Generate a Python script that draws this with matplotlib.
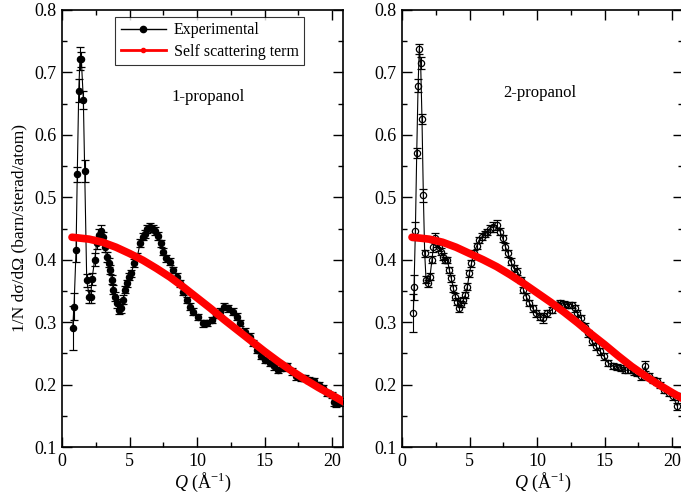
import matplotlib

matplotlib.use("Agg")
import matplotlib.pyplot as plt  # noqa: E402
from matplotlib.lines import Line2D  # noqa: E402

plt.rcParams["font.family"] = ["Liberation Serif", "DejaVu Serif"]
plt.rcParams["mathtext.fontset"] = "custom"
plt.rcParams["mathtext.rm"] = "Liberation Serif"
plt.rcParams["mathtext.it"] = "Liberation Serif:italic"

# 1-propanol, experimental
q1 = [0.79, 0.89, 1.04, 1.13, 1.24, 1.33, 1.43, 1.58, 1.68, 1.83, 2.02, 2.12, 2.22, 2.42,
      2.57, 2.77, 2.91, 3.06, 3.16, 3.31, 3.46, 3.56, 3.68, 3.80, 3.95, 4.10, 4.25, 4.40,
      4.54, 4.69, 4.84, 4.99, 5.14, 5.33, 5.58, 5.78, 5.98, 6.17, 6.32, 6.52, 6.72, 6.91,
      7.11, 7.31, 7.51, 7.70, 8.00, 8.25, 8.49, 8.74, 8.99, 9.24, 9.48, 9.73, 10.10, 10.42,
      10.72, 11.09, 11.40, 11.70, 12.00, 12.32, 12.64, 12.99, 13.19, 13.56, 13.88, 14.17,
      14.42, 14.72, 15.04, 15.36, 15.70, 16.02, 16.35, 16.69, 17.01, 17.33, 17.68, 18.00,
      18.32, 18.67, 18.99, 19.31, 19.61, 19.98, 20.10, 20.30, 20.60]
s1 = [0.291, 0.325, 0.415, 0.537, 0.671, 0.722, 0.721, 0.656, 0.542, 0.367, 0.341, 0.340,
      0.369, 0.400, 0.427, 0.440, 0.446, 0.437, 0.421, 0.405, 0.395, 0.384, 0.368, 0.352,
      0.341, 0.330, 0.320, 0.322, 0.336, 0.352, 0.362, 0.373, 0.378, 0.395, 0.405, 0.427,
      0.437, 0.441, 0.449, 0.453, 0.450, 0.446, 0.438, 0.426, 0.413, 0.402, 0.397, 0.384,
      0.373, 0.362, 0.349, 0.336, 0.325, 0.317, 0.308, 0.298, 0.299, 0.303, 0.312, 0.317,
      0.325, 0.322, 0.317, 0.309, 0.299, 0.285, 0.277, 0.266, 0.255, 0.246, 0.239, 0.234,
      0.229, 0.223, 0.226, 0.229, 0.221, 0.213, 0.210, 0.210, 0.207, 0.205, 0.199, 0.194,
      0.186, 0.183, 0.172, 0.170, 0.172]
e1 = [0.035, 0.022, 0.018, 0.012, 0.018, 0.018, 0.012, 0.015, 0.018, 0.010, 0.010, 0.010,
      0.010, 0.010, 0.010, 0.010, 0.010, 0.008, 0.008, 0.008, 0.007, 0.007, 0.007, 0.007,
      0.007, 0.007, 0.007, 0.007, 0.007, 0.006, 0.006, 0.006, 0.006, 0.006, 0.006, 0.006,
      0.006, 0.006, 0.006, 0.006, 0.006, 0.006, 0.006, 0.006, 0.005, 0.005, 0.005, 0.005,
      0.005, 0.005, 0.005, 0.005, 0.005, 0.005, 0.005, 0.005, 0.005, 0.005, 0.005, 0.005,
      0.005, 0.005, 0.005, 0.005, 0.005, 0.005, 0.005, 0.005, 0.005, 0.005, 0.005, 0.005,
      0.005, 0.005, 0.005, 0.005, 0.005, 0.005, 0.005, 0.005, 0.005, 0.005, 0.005, 0.005,
      0.005, 0.005, 0.006, 0.006, 0.006]

# 2-propanol, experimental
q2 = [0.84, 0.89, 0.99, 1.09, 1.19, 1.28, 1.38, 1.48, 1.58, 1.68, 1.78, 1.93, 2.07, 2.22,
      2.32, 2.47, 2.62, 2.77, 2.91, 3.06, 3.21, 3.36, 3.50, 3.65, 3.80, 3.95, 4.10, 4.25,
      4.40, 4.54, 4.69, 4.84, 4.99, 5.14, 5.33, 5.53, 5.73, 5.93, 6.13, 6.32, 6.52, 6.77,
      7.01, 7.26, 7.46, 7.65, 7.85, 8.05, 8.30, 8.54, 8.79, 8.99, 9.19, 9.43, 9.68, 9.93,
      10.22, 10.47, 10.76, 11.09, 11.41, 11.70, 12.00, 12.30, 12.59, 12.79, 12.99, 13.24,
      13.56, 13.80, 14.05, 14.37, 14.67, 14.96, 15.28, 15.61, 15.90, 16.20, 16.52, 16.84,
      17.14, 17.43, 17.68, 18.00, 18.25, 18.57, 18.86, 19.11, 19.41, 19.73, 20.05, 20.39,
      20.54]
s2 = [0.315, 0.356, 0.446, 0.571, 0.679, 0.738, 0.715, 0.625, 0.503, 0.410, 0.368, 0.362,
      0.373, 0.400, 0.421, 0.434, 0.426, 0.420, 0.413, 0.405, 0.400, 0.400, 0.384, 0.370,
      0.354, 0.341, 0.333, 0.322, 0.329, 0.336, 0.344, 0.357, 0.378, 0.394, 0.411, 0.422,
      0.432, 0.437, 0.441, 0.445, 0.450, 0.453, 0.455, 0.445, 0.434, 0.421, 0.410, 0.397,
      0.386, 0.381, 0.368, 0.352, 0.341, 0.331, 0.322, 0.314, 0.309, 0.306, 0.314, 0.320,
      0.328, 0.330, 0.329, 0.328, 0.328, 0.322, 0.314, 0.306, 0.293, 0.282, 0.269, 0.261,
      0.253, 0.245, 0.234, 0.230, 0.228, 0.226, 0.223, 0.223, 0.221, 0.218, 0.213, 0.229,
      0.213, 0.207, 0.205, 0.199, 0.191, 0.186, 0.181, 0.165, 0.181]
e2 = [0.030, 0.020, 0.014, 0.008, 0.010, 0.008, 0.010, 0.008, 0.010, 0.006, 0.006, 0.006,
      0.006, 0.006, 0.008, 0.008, 0.006, 0.006, 0.006, 0.005, 0.005, 0.005, 0.005, 0.005,
      0.005, 0.005, 0.005, 0.005, 0.005, 0.005, 0.005, 0.005, 0.005, 0.005, 0.005, 0.005,
      0.005, 0.005, 0.005, 0.005, 0.006, 0.008, 0.008, 0.006, 0.005, 0.005, 0.005, 0.005,
      0.005, 0.005, 0.005, 0.005, 0.005, 0.005, 0.005, 0.005, 0.005, 0.008, 0.005, 0.005,
      0.005, 0.005, 0.005, 0.005, 0.005, 0.005, 0.005, 0.005, 0.005, 0.005, 0.005, 0.005,
      0.005, 0.005, 0.005, 0.005, 0.005, 0.005, 0.005, 0.005, 0.005, 0.005, 0.005, 0.008,
      0.005, 0.005, 0.005, 0.005, 0.005, 0.005, 0.005, 0.006, 0.006]

# self scattering term
qs1 = [0.74, 2, 3, 4, 5, 6, 7, 8, 9, 10, 11, 12, 13, 14, 15, 16, 17, 18, 19, 20, 20.9]
ss1 = [0.436, 0.433, 0.428, 0.420, 0.410, 0.399, 0.386, 0.372, 0.356, 0.339, 0.322,
       0.304, 0.287, 0.270, 0.253, 0.237, 0.222, 0.208, 0.195, 0.183, 0.172]
qs2 = [0.74, 2, 3, 4, 5, 6, 7, 8, 9, 10, 11, 12, 13, 14, 15, 16, 17, 18, 19, 20, 20.9]
ss2 = [0.436, 0.433, 0.428, 0.420, 0.410, 0.400, 0.389, 0.376, 0.362, 0.347, 0.332,
       0.316, 0.299, 0.281, 0.264, 0.246, 0.229, 0.214, 0.200, 0.187, 0.176]

labels = ["1-propanol", "2-propanol"]

fig = plt.figure(figsize=(6.81, 5.04), dpi=100)
ax1 = fig.add_axes([62 / 681, 57 / 504, 281 / 681, 437 / 504])
ax2 = fig.add_axes([402 / 681, 57 / 504, 281 / 681, 437 / 504])

for ax, q, s, e, qs, ss, filled in [
    (ax1, q1, s1, e1, qs1, ss1, True),
    (ax2, q2, s2, e2, qs2, ss2, False),
]:
    ax.errorbar(q, s, yerr=e, fmt="-o", color="black", lw=0.8, elinewidth=0.8,
                capsize=3, capthick=0.8, ms=4.5, mec="black",
                mfc="black" if filled else "none", mew=0.9, zorder=2)
    ax.plot(qs, ss, color="#ff0000", lw=5.5, solid_capstyle="round",
            solid_joinstyle="round", zorder=3)
    ax.set_xlim(0, 20.8)
    ax.set_ylim(0.1, 0.8)
    ax.set_xticks([0, 5, 10, 15, 20])
    ax.set_xticks([2.5, 7.5, 12.5, 17.5], minor=True)
    ax.set_yticks([0.1, 0.2, 0.3, 0.4, 0.5, 0.6, 0.7, 0.8])
    ax.set_yticks([0.15, 0.25, 0.35, 0.45, 0.55, 0.65, 0.75], minor=True)
    ax.set_yticklabels(["0.1", "0.2", "0.3", "0.4", "0.5", "0.6", "0.7", "0.8"])
    ax.tick_params(which="both", direction="in", top=True, right=True,
                   labelsize=13, width=1.0, pad=4)
    ax.tick_params(which="major", length=7)
    ax.tick_params(which="minor", length=3.5)
    for sp in ax.spines.values():
        sp.set_linewidth(1.2)
    ax.set_xlabel(r"$Q$ (Å$^{-1}$)", fontsize=13, labelpad=1)

ax1.text(0.52, 0.8, labels[0], transform=ax1.transAxes, ha="center", va="center", fontsize=12)
ax2.text(0.49, 0.81, labels[1], transform=ax2.transAxes, ha="center", va="center", fontsize=12)
ax1.set_ylabel("1/N dσ/dΩ (barn/sterad/atom)", fontsize=12.5, labelpad=5)

handles = [
    Line2D([], [], color="black", lw=1.0, marker="o", ms=4.5, markevery=[0, -1]),
    Line2D([], [], color="#ff0000", lw=2.0, marker="o", ms=3, markevery=[0, -1]),
]
leg = ax1.legend(handles, ["Experimental", "Self scattering term"], loc="upper left",
                 bbox_to_anchor=(0.19, 0.985), fontsize=11.5, frameon=True, fancybox=False,
                 edgecolor="black", handlelength=2.8, handletextpad=0.5,
                 borderpad=0.35, labelspacing=0.35, borderaxespad=0)
leg.get_frame().set_linewidth(0.8)

fig.savefig("out.png", dpi=100)
